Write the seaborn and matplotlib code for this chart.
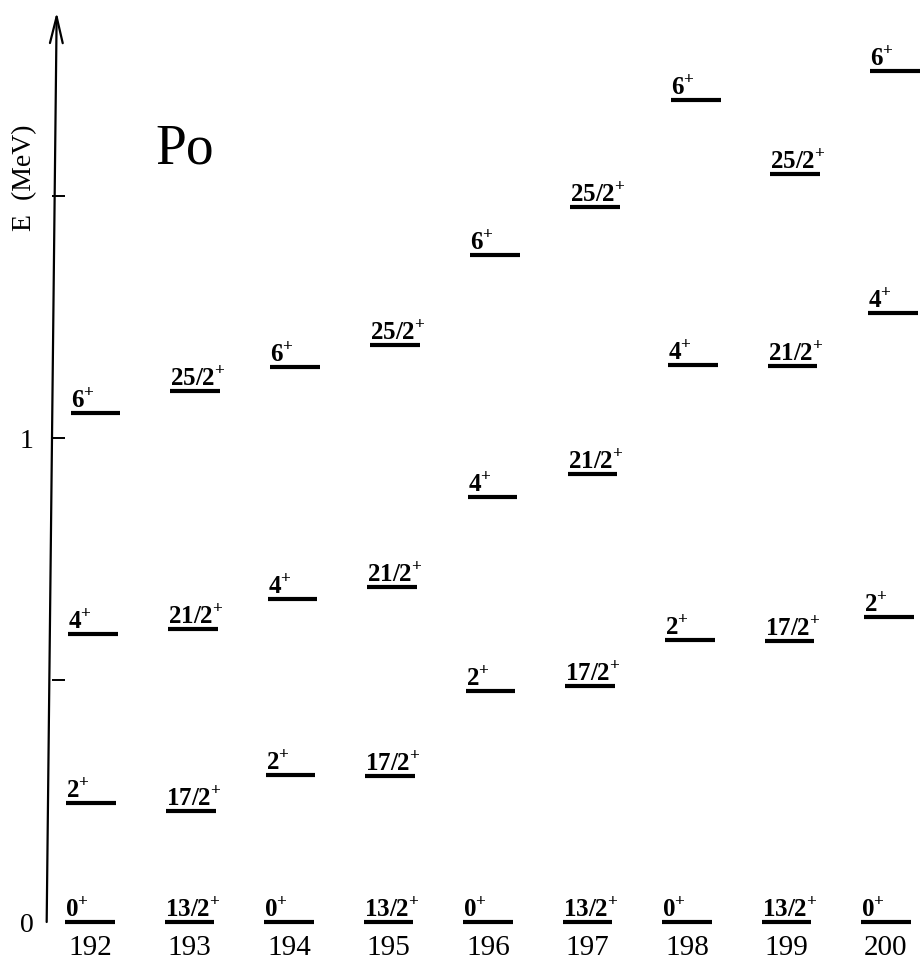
import numpy as np
import pandas as pd
import matplotlib
matplotlib.use("Agg")
import matplotlib.pyplot as plt
import matplotlib.transforms as mtransforms
import seaborn as sns

# level energies (MeV)
masses = [192, 193, 194, 195, 196, 197, 198, 199, 200]
even_spins = ["0", "2", "4", "6"]
odd_spins = ["13/2", "17/2", "21/2", "25/2"]

e192 = [0.0, 0.246, 0.595, 1.052]
e193 = [0.0, 0.229, 0.605, 1.097]
e194 = [0.0, 0.304, 0.667, 1.147]
e195 = [0.0, 0.302, 0.692, 1.192]
e196 = [0.0, 0.477, 0.878, 1.378]
e197 = [0.0, 0.488, 0.926, 1.477]
e198 = [0.0, 0.583, 1.151, 1.698]
e199 = [0.0, 0.581, 1.149, 1.545]
e200 = [0.0, 0.630, 1.258, 1.758]
energies = [e192, e193, e194, e195, e196, e197, e198, e199, e200]

rows = []
for a, es in zip(masses, energies):
    spins = even_spins if a % 2 == 0 else odd_spins
    for s, e in zip(spins, es):
        rows.append({"A": a, "spin": s, "E": e})
levels = pd.DataFrame(rows)

sns.set_theme(style="white")
plt.rcParams["font.family"] = ["Liberation Serif", "DejaVu Serif"]
plt.rcParams["mathtext.fontset"] = "custom"
plt.rcParams["mathtext.rm"] = "Liberation Serif"
plt.rcParams["mathtext.bf"] = "Liberation Serif:bold"
plt.rcParams["text.color"] = "black"
plt.rcParams["ytick.color"] = "black"
plt.rcParams["ytick.labelcolor"] = "black"

fig = plt.figure(figsize=(9.24, 9.62), dpi=100)
ax = fig.add_axes([52 / 924, 39 / 962, 872 / 924, 910 / 962])
ax.set_xlim(191.565, 200.329)
ax.set_ylim(0, 1.88)

# the scanned original is slightly sheared; mimic it
yref = ax.transData.transform((0, 1.0))[1]
k = 10 / 910
skew = (mtransforms.Affine2D().translate(0, -yref)
        .skew(np.arctan(k), 0).translate(0, yref))
sheared = ax.transData + skew

half = 0.25
ax.hlines(levels["E"], levels["A"] - half, levels["A"] + half,
          colors="black", lw=3.0, transform=sheared, clip_on=False)

for _, r in levels.iterrows():
    lab = r"$\mathbf{%s}^{\mathbf{+}}$" % r["spin"]
    ax.annotate(lab, xy=(r["A"] - half, r["E"]), xycoords=sheared,
                xytext=(0, 4.5), textcoords="offset points",
                ha="left", va="baseline", fontsize=18, color="black",
                annotation_clip=False)

for a in masses:
    ax.annotate(str(a), xy=(a, 0), xycoords=sheared,
                xytext=(0, -8.5), textcoords="offset points",
                ha="center", va="top", fontsize=21, color="black",
                annotation_clip=False)

# energy axis with arrow head
x0 = ax.get_xlim()[0]
ax.annotate("", xy=(x0, 1.88), xytext=(x0, 0), xycoords=sheared,
            arrowprops=dict(arrowstyle="->,head_length=0.95,head_width=0.23",
                            lw=1.6, color="black", shrinkA=0, shrinkB=0,
                            mutation_scale=20),
            annotation_clip=False)

for sp in ax.spines.values():
    sp.set_visible(False)
ax.set_xticks([])
ax.set_yticks([0, 0.5, 1.0, 1.5])
ax.set_yticklabels(["0", "", "1", ""])
ax.tick_params(axis="y", direction="in", length=9.4, width=1.4,
               pad=13, left=True, colors="black", labelsize=20)
ax.yaxis.get_major_ticks()[0].tick1line.set_visible(False)

fig.text(25 / 924, 1 - 178 / 962, "E  (MeV)", rotation=90,
         ha="center", va="center", fontsize=20, color="black")
fig.text(155 / 924, 1 - 163 / 962, "Po", ha="left", va="baseline",
         fontsize=40, color="black")

fig.savefig("out.png", dpi=100, facecolor="white")
